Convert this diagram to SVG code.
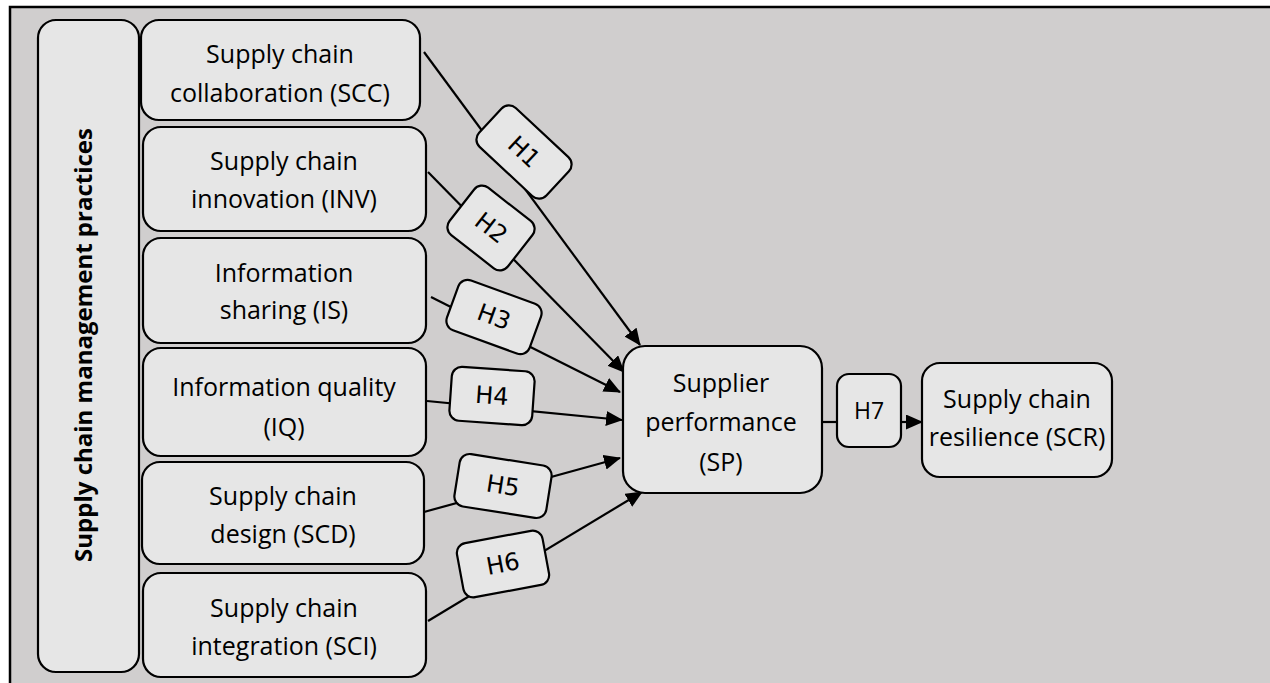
<svg xmlns="http://www.w3.org/2000/svg" width="1270" height="683" viewBox="0 0 1270 683">
  <style>
    .box { fill: #e6e6e6; stroke: #000; stroke-width: 2.2; }
    .lbl { font-family: "Open Sans", "Noto Sans", sans-serif; font-size: 25px; fill: #000; text-anchor: middle; }
    .side { font-family: "Open Sans", "Noto Sans", sans-serif; font-size: 24px; font-weight: bold; fill: #000; text-anchor: middle; }
    .hyp { font-family: "DejaVu Sans", sans-serif; font-size: 24px; fill: #000; text-anchor: middle; dominant-baseline: central; }
    .h7 { font-family: "Open Sans", "Noto Sans", sans-serif; font-size: 23px; fill: #000; text-anchor: middle; }
    .edge { stroke: #000; stroke-width: 2.2; fill: none; }
  </style>
  <defs>
    <marker id="arrow" markerUnits="userSpaceOnUse" markerWidth="20" markerHeight="16" refX="16" refY="7.5" orient="auto">
      <path d="M0,0 L17,7.5 L0,15 z" fill="#000"/>
    </marker>
  </defs>

  <rect width="1270" height="683" fill="#fff"/>
  <!-- background panel -->
  <rect x="10" y="7" width="1290" height="720" fill="#d0cece" stroke="#000" stroke-width="2.5"/>

  <!-- connectors -->
  <g id="connectors">
    <line class="edge" x1="424" y1="52" x2="640" y2="345" marker-end="url(#arrow)"/>
    <line class="edge" x1="428" y1="172" x2="624" y2="372" marker-end="url(#arrow)"/>
    <line class="edge" x1="431" y1="297" x2="620" y2="392" marker-end="url(#arrow)"/>
    <line class="edge" x1="427" y1="401" x2="622" y2="420" marker-end="url(#arrow)"/>
    <line class="edge" x1="424" y1="512" x2="620" y2="458" marker-end="url(#arrow)"/>
    <line class="edge" x1="428" y1="621" x2="642" y2="492" marker-end="url(#arrow)"/>
    <line class="edge" x1="822" y1="422" x2="837" y2="422"/>
    <line class="edge" x1="901" y1="422" x2="922" y2="422" marker-end="url(#arrow)"/>
  </g>

  <!-- group label -->
  <g id="scm-practices">
    <rect class="box" x="38" y="20" width="101" height="652" rx="18"/>
    <text class="side" transform="translate(92,345) rotate(-90)">Supply chain management practices</text>
  </g>

  <!-- constructs -->
  <g id="scc">
    <rect class="box" x="141" y="20" width="279" height="100" rx="18"/>
    <text class="lbl" x="280" y="63">Supply chain</text>
    <text class="lbl" x="280" y="102">collaboration (SCC)</text>
  </g>
  <g id="inv">
    <rect class="box" x="143" y="127" width="283" height="104" rx="18"/>
    <text class="lbl" x="284" y="170">Supply chain</text>
    <text class="lbl" x="284" y="208">innovation (INV)</text>
  </g>
  <g id="is">
    <rect class="box" x="143" y="238" width="283" height="105" rx="18"/>
    <text class="lbl" x="284" y="282">Information</text>
    <text class="lbl" x="284" y="319">sharing (IS)</text>
  </g>
  <g id="iq">
    <rect class="box" x="143" y="348" width="283" height="108" rx="18"/>
    <text class="lbl" x="284" y="396">Information quality</text>
    <text class="lbl" x="284" y="436">(IQ)</text>
  </g>
  <g id="scd">
    <rect class="box" x="142" y="462" width="282" height="102" rx="18"/>
    <text class="lbl" x="283" y="505">Supply chain</text>
    <text class="lbl" x="283" y="543">design (SCD)</text>
  </g>
  <g id="sci">
    <rect class="box" x="143" y="573" width="283" height="104" rx="18"/>
    <text class="lbl" x="284" y="617">Supply chain</text>
    <text class="lbl" x="284" y="655">integration (SCI)</text>
  </g>
  <g id="sp">
    <rect class="box" x="623" y="346" width="199" height="147" rx="22"/>
    <text class="lbl" x="721" y="392">Supplier</text>
    <text class="lbl" x="721" y="431">performance</text>
    <text class="lbl" x="721" y="471">(SP)</text>
  </g>
  <g id="scr">
    <rect class="box" x="922" y="363" width="190" height="114" rx="18"/>
    <text class="lbl" x="1017" y="408">Supply chain</text>
    <text class="lbl" x="1017" y="446">resilience (SCR)</text>
  </g>

  <!-- hypothesis labels -->
  <g id="h1" transform="translate(524,152) rotate(43)">
    <rect class="box" x="-46" y="-26.5" width="92" height="53" rx="10"/>
    <text class="hyp" x="0" y="0">H1</text>
  </g>
  <g id="h2" transform="translate(491,228) rotate(38)">
    <rect class="box" x="-37" y="-30" width="74" height="60" rx="10"/>
    <text class="hyp" x="0" y="0">H2</text>
  </g>
  <g id="h3" transform="translate(494,317) rotate(20)">
    <rect class="box" x="-44" y="-26.5" width="88" height="53" rx="10"/>
    <text class="hyp" x="0" y="0">H3</text>
  </g>
  <g id="h4" transform="translate(492,396) rotate(4)">
    <rect class="box" x="-41.5" y="-27" width="83" height="54" rx="10"/>
    <text class="hyp" x="0" y="0">H4</text>
  </g>
  <g id="h5" transform="translate(503,486) rotate(9)">
    <rect class="box" x="-46.5" y="-26.5" width="93" height="53" rx="10"/>
    <text class="hyp" x="0" y="0">H5</text>
  </g>
  <g id="h6" transform="translate(503,564) rotate(-10.5)">
    <rect class="box" x="-43.5" y="-27.5" width="87" height="55" rx="10"/>
    <text class="hyp" x="0" y="0">H6</text>
  </g>
  <g id="h7">
    <rect class="box" x="837" y="374" width="64" height="73" rx="12"/>
    <text class="h7" x="869" y="419">H7</text>
  </g>
</svg>
